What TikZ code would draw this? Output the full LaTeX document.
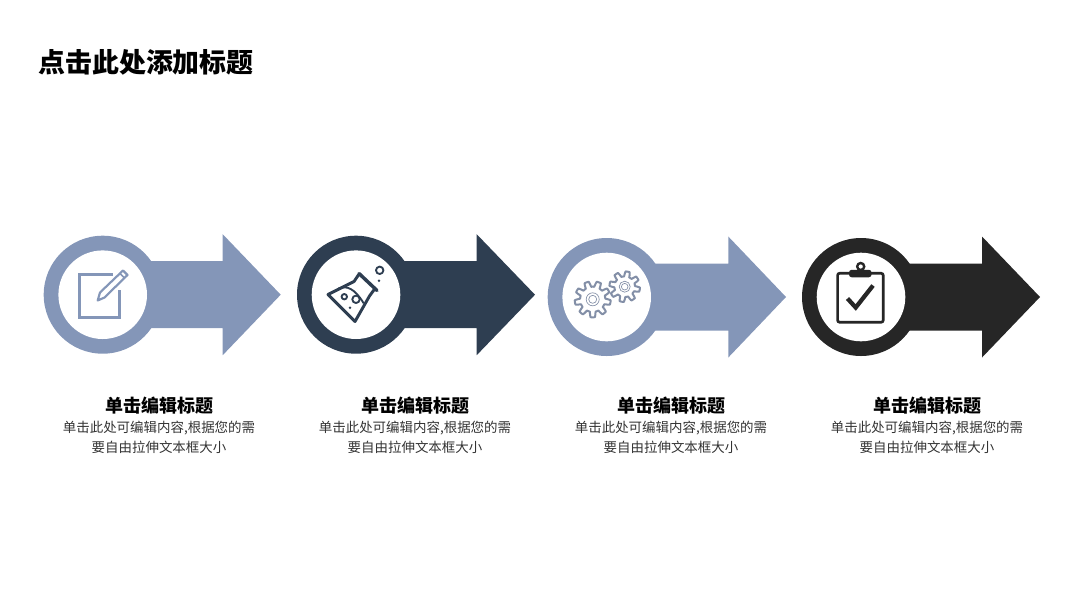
\documentclass[tikz,border=0pt]{standalone}
\usepackage{fontspec}
\setmainfont{Noto Sans CJK SC}
\definecolor{steelblue}{HTML}{8496B8}
\definecolor{navyblue}{HTML}{2E3E51}
\definecolor{inkblack}{HTML}{262626}
\definecolor{bodygray}{HTML}{333333}
\tikzset{
  titletext/.style={font=\bfseries\fontsize{20.2}{24}\selectfont, text=black},
  headtext/.style={font=\bfseries\fontsize{13.5}{16}\selectfont, text=black},
  bodytext/.style={font=\fontsize{10.1}{15}\selectfont, text=bodygray, align=center},
}
\begin{document}
\begin{tikzpicture}[x=0.75pt, y=-0.75pt]
  \useasboundingbox (0, 0) rectangle (1080, 608);

  \node[titletext, anchor=west, inner sep=0pt] (title) at (38, 62) {点击此处添加标题};

  % 圆环和箭头
  \foreach \i/\cx/\cy/\hx/\tx/\col in {
      1/102.7/294.7/222.7/280.7/steelblue,
      2/356/294.7/476.7/535/navyblue,
      3/606.7/297/728.3/786/steelblue,
      4/861/297/982/1040/inkblack} {
    \coordinate (C\i) at (\cx, \cy);
    \fill[\col] (\cx, \cy-33.5) -- (\hx, \cy-33.5) -- (\hx, \cy-60.5) -- (\tx, \cy)
      -- (\hx, \cy+60.5) -- (\hx, \cy+33.5) -- (\cx, \cy+33.5) -- cycle;
    \fill[\col] (C\i) circle (59);
    \fill[white] (C\i) circle (44.3);
  }

  % 文字
  \foreach \i/\tx in {1/159, 2/415, 3/671, 4/927} {
    \node[headtext] (head\i) at (\tx, 405.5) {单击编辑标题};
    \node[bodytext] (body\i) at (\tx, 437) {单击此处可编辑内容,根据您的需\\要自由拉伸文本框大小};
  }

  % 笔和方框
  \draw[steelblue, line width=2pt, line join=miter]
    (112.7, 274.6) -- (79.6, 274.6) -- (79.6, 317.2) -- (119.2, 317.2) -- (119.2, 290);
  \draw[steelblue, line width=1.6pt, line join=round, fill=white]
    (97.7, 300.5) -- (100, 292.5) -- (123, 270.5) -- (127.5, 275) -- (104.5, 297.5) -- cycle;
  \draw[steelblue, line width=1.2pt] (120, 273.5) -- (124.5, 278);

  % 烧瓶
  \begin{scope}[navyblue, line width=2.2pt, line join=round, line cap=round]
    \draw (359.3, 273.7) -- (354, 281.5) -- (328, 294.5) -- (355, 321.5) -- (369.5, 296) -- (375, 288.5);
    \draw[line width=2.6pt] (359, 273.5) -- (377, 290.5);
    \draw[line width=1.4pt] (338.5, 288.5) .. controls (347, 285) and (355, 289) .. (363.5, 303);
    \draw[line width=1.4pt] (344.3, 296.7) circle (2.7);
    \draw[line width=1.4pt] (356, 299.3) circle (3.7);
    \fill (350, 307.7) circle (1.3);
    \draw[line width=1.4pt] (379.7, 270.3) circle (3.7);
    \fill (379, 280.7) circle (1.3);
  \end{scope}

  % 齿轮
  \begin{scope}[steelblue!70!gray, line width=1.5pt, line join=round]
    \draw[shift={(592.7, 299.3)}] plot[samples=361, domain=0:360]
      (\x:{15.3+2.7*max(min(2.2*sin(9*\x),1),-1)}) -- cycle;
    \draw[shift={(592.7, 299.3)}, line width=.5pt] (0, 0) circle (4) (0, 0) circle (6.5);
    \draw[shift={(624.7, 286.7)}] plot[samples=361, domain=0:360]
      (\x:{12.8+2.5*max(min(2.2*sin(8*\x),1),-1)}) -- cycle;
    \draw[shift={(624.7, 286.7)}, line width=.5pt] (0, 0) circle (3.3) (0, 0) circle (5.5);
  \end{scope}

  % 记事板
  \begin{scope}[inkblack]
    \draw[line width=2pt, rounded corners=1.5pt] (837.6, 273.3) rectangle (883.2, 322.2);
    \fill[rounded corners=2pt] (849, 269.8) rectangle (871.5, 277.3);
    \draw[line width=1.8pt] (860.7, 266.5) circle (3.5);
    \draw[line width=3.2pt, line join=miter] (847.5, 298.5) -- (855.7, 307.5) -- (873, 285.5);
  \end{scope}
\end{tikzpicture}
\end{document}
